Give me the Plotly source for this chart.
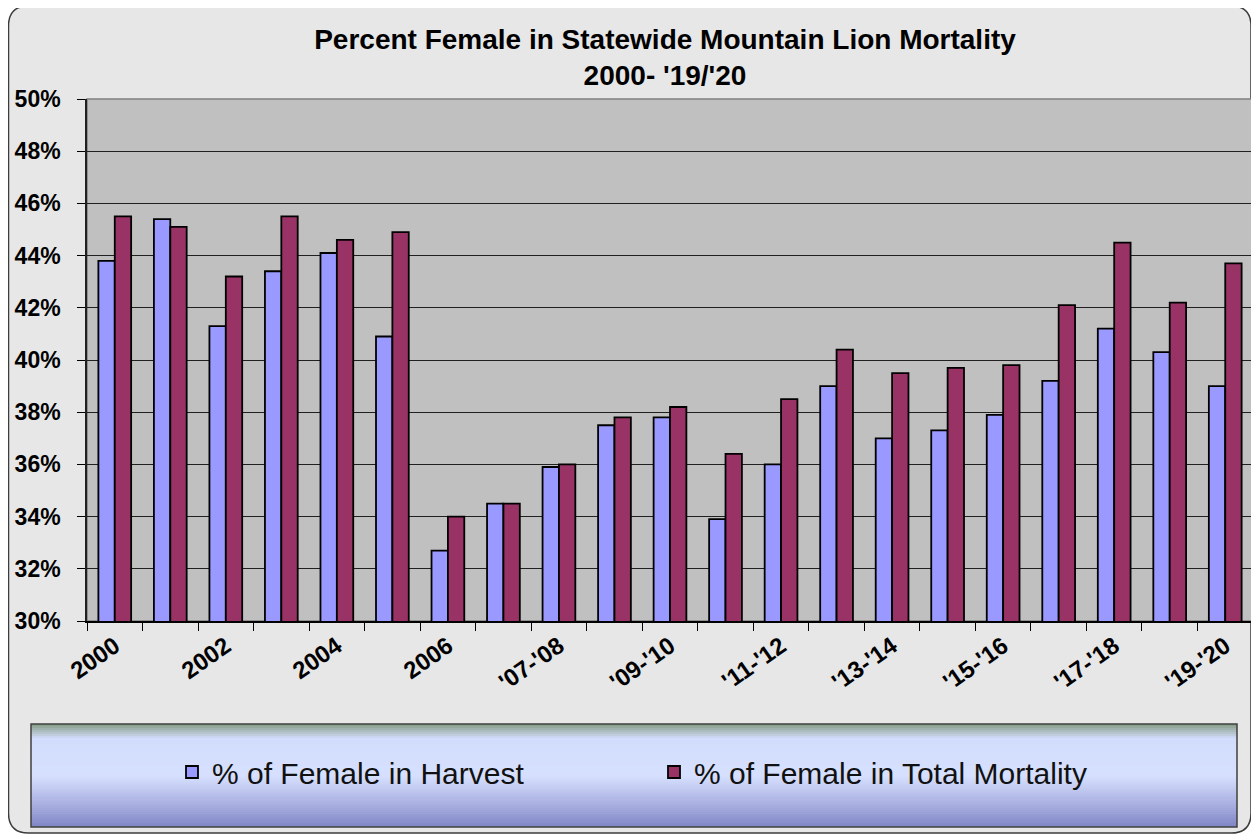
import plotly.graph_objects as go

categories = ["2000", "2001", "2002", "2003", "2004", "2005", "2006", "2007",
              "'07-'08", "'08-'09", "'09-'10", "'10-'11", "'11-'12", "'12-'13",
              "'13-'14", "'14-'15", "'15-'16", "'16-'17", "'17-'18", "'18-'19", "'19-'20"]
harvest_pct = [43.8, 45.4, 41.3, 43.4, 44.1, 40.9, 32.7, 34.5, 35.9, 37.5, 37.8,
               33.9, 36.0, 39.0, 37.0, 37.3, 37.9, 39.2, 41.2, 40.3, 39.0]
total_pct = [45.5, 45.1, 43.2, 45.5, 44.6, 44.9, 34.0, 34.5, 36.0, 37.8, 38.2,
             36.4, 38.5, 40.4, 39.5, 39.7, 39.8, 42.1, 44.5, 42.2, 43.7]
y_ticks = [30, 32, 34, 36, 38, 40, 42, 44, 46, 48, 50]

# page body has an 8px margin: figure is placed at (8,8) in the 1259x836 window
OFF = 8
W, H = 1259 - OFF, 836 - OFF
L, R, T, B = 87 - OFF, 1253 - OFF, 99 - OFF, 621 - OFF


def px(x):
    """reference-window x pixel -> paper fraction"""
    return (x - OFF - L) / (R - L)


def py(y):
    """reference-window y pixel -> paper fraction"""
    return (B - (y - OFF)) / (B - T)


xidx = list(range(len(categories)))
FONT = "Liberation Sans, Arial, sans-serif"

fig = go.Figure()
fig.add_trace(go.Bar(x=xidx, y=harvest_pct, name="% of Female in Harvest",
                     marker=dict(color="#9999FF", line=dict(color="black", width=1.8))))
fig.add_trace(go.Bar(x=xidx, y=total_pct, name="% of Female in Total Mortality",
                     marker=dict(color="#993366", line=dict(color="black", width=1.8))))

shapes = []
# rounded chart background
x0, x1, y0, y1, r = 8.5, 1251, 6, 833, 20
path = (f"M {px(x0 + r)},{py(y0)} L {px(x1 - r)},{py(y0)} "
        f"Q {px(x1)},{py(y0)} {px(x1)},{py(y0 + r)} L {px(x1)},{py(y1 - r)} "
        f"Q {px(x1)},{py(y1)} {px(x1 - r)},{py(y1)} L {px(x0 + r)},{py(y1)} "
        f"Q {px(x0)},{py(y1)} {px(x0)},{py(y1 - r)} L {px(x0)},{py(y0 + r)} "
        f"Q {px(x0)},{py(y0)} {px(x0 + r)},{py(y0)} Z")
shapes.append(dict(type="path", path=path, xref="paper", yref="paper", layer="below",
                   fillcolor="#E7E7E7", line=dict(color="#3C3C3C", width=1.5)))
# plot area background
shapes.append(dict(type="rect", xref="paper", yref="paper", x0=0, x1=1, y0=0, y1=1,
                   layer="below", fillcolor="#C0C0C0", line=dict(color="#808080", width=1.5)))

# legend gradient box
stops = [(0.0, (0x82, 0x9C, 0x82)), (0.06, (0xA8, 0xB8, 0xB8)), (0.14, (0xD2, 0xDC, 0xFC)),
         (0.50, (0xD6, 0xE0, 0xFE)), (0.62, (0xC4, 0xCC, 0xF2)), (0.80, (0xA4, 0xAA, 0xDE)),
         (1.0, (0x80, 0x86, 0xC4))]


def grad(t):
    for (t0, c0), (t1, c1) in zip(stops[:-1], stops[1:]):
        if t0 <= t <= t1:
            f = (t - t0) / (t1 - t0) if t1 > t0 else 0
            c = [round(a + (b - a) * f) for a, b in zip(c0, c1)]
            return "rgb(%d,%d,%d)" % tuple(c)
    return "rgb(128,134,196)"


lx0, lx1, ly0, ly1 = 31, 1237, 724, 827
n = 52
step = (ly1 - ly0) / n
for i in range(n):
    ya = ly0 + i * step
    yb = ya + step + 0.6
    shapes.append(dict(type="rect", xref="paper", yref="paper", layer="below",
                       x0=px(lx0), x1=px(lx1), y0=py(min(yb, ly1)), y1=py(ya),
                       fillcolor=grad((i + 0.5) / n), line=dict(width=0)))
shapes.append(dict(type="rect", xref="paper", yref="paper", layer="below",
                   x0=px(lx0), x1=px(lx1), y0=py(ly1), y1=py(ly0),
                   fillcolor="rgba(0,0,0,0)", line=dict(color="#404040", width=1.5)))

fig.update_layout(
    width=W, height=H,
    margin=dict(l=L, r=W - R, t=T, b=H - B, pad=0),
    paper_bgcolor="white",
    plot_bgcolor="rgba(0,0,0,0)",
    barmode="group", bargap=0.41, bargroupgap=0,
    font=dict(family=FONT, color="black"),
    title=dict(text="<b>Percent Female in Statewide Mountain Lion Mortality<br>2000- '19/'20</b>",
               x=(665 - OFF) / W, xanchor="center", y=1 - 41 / H, yanchor="top",
               font=dict(size=28, family=FONT, color="black")),
    shapes=shapes,
    showlegend=True,
    legend=dict(orientation="h", x=px(172), xanchor="left", y=py(772), yanchor="middle",
                bgcolor="rgba(0,0,0,0)", borderwidth=0,
                font=dict(size=30, family=FONT, color="#111"),
                entrywidth=437, entrywidthmode="pixels", itemwidth=30,
                traceorder="normal"),
    xaxis=dict(range=[-0.5, len(categories) - 0.5], tickmode="array",
               tickvals=xidx[::2], ticktext=categories[::2], tickangle=-35,
               ticks="", ticklabelstandoff=0,
               tickfont=dict(size=24, family=FONT, color="black", weight="bold"),
               showgrid=False, zeroline=False, showline=True, linecolor="black", linewidth=1.5,
               minor=dict(ticks="outside", ticklen=8, tickcolor="black", tickwidth=1.2,
                          tickmode="linear", tick0=-0.5, dtick=1, showgrid=False)),
    yaxis=dict(range=[30, 50], tickmode="array", tickvals=y_ticks,
               ticktext=[f"{v}%" for v in y_ticks],
               ticks="outside", ticklen=8, tickcolor="black", tickwidth=1.2,
               ticklabelstandoff=12,
               tickfont=dict(size=23, family=FONT, color="black", weight="bold"),
               showgrid=True, gridcolor="#202020", gridwidth=1.2, zeroline=False,
               showline=True, linecolor="#202020", linewidth=1.5),
)

fig.write_html("out.html")
